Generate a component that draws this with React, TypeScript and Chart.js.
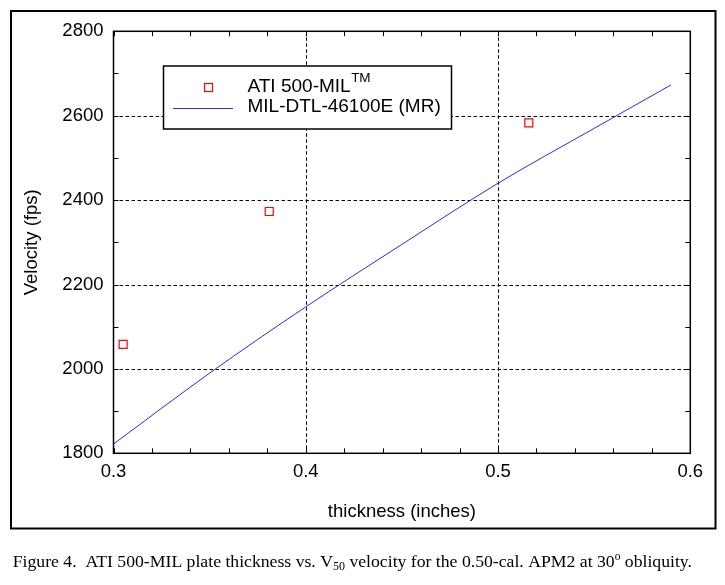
import React, { useEffect, useRef } from "react";
import { Chart, registerables } from "chart.js";

Chart.register(...registerables);

// ---- data ----
const atiThickness = [0.305, 0.381, 0.516];
const atiVelocity = [2058, 2373, 2583];

const milThickness = [0.3, 0.35, 0.4, 0.45, 0.5, 0.55, 0.59];
const milVelocity = [1822, 1990, 2147, 2295, 2440, 2570, 2673];

const xTicks = [0.3, 0.4, 0.5, 0.6];
const yTicks = [1800, 2000, 2200, 2400, 2600, 2800];
const xMinorTicks = [0.32, 0.34, 0.36, 0.38, 0.42, 0.44, 0.46, 0.48, 0.52, 0.54, 0.56, 0.58];
const yMinorTicks = [1900, 2100, 2300, 2500, 2700];

const legendLabels = ["ATI 500-MIL", "MIL-DTL-46100E (MR)"];
const xTitle = "thickness (inches)";
const yTitle = "Velocity (fps)";

const SANS = "'Liberation Sans', Arial, sans-serif";
const SERIF = "'Liberation Serif', 'Times New Roman', serif";

const figurePlugin = {
  id: "figurePlugin",
  beforeDraw(chart: any) {
    const { ctx, width, height } = chart;
    ctx.save();
    ctx.fillStyle = "#ffffff";
    ctx.fillRect(0, 0, width, height);
    ctx.restore();
  },
  beforeDatasetsDraw(chart: any) {
    const { ctx, chartArea, scales } = chart;
    const { left, right, top, bottom } = chartArea;
    ctx.save();
    ctx.strokeStyle = "#000";
    ctx.lineWidth = 1;
    ctx.setLineDash([3.5, 2.5]);
    xTicks.forEach((v) => {
      const px = Math.round(scales.x.getPixelForValue(v)) + 0.5;
      if (px <= left + 2 || px >= right - 2) return;
      ctx.beginPath();
      ctx.moveTo(px, top);
      ctx.lineTo(px, bottom);
      ctx.stroke();
    });
    yTicks.forEach((v) => {
      const py = Math.round(scales.y.getPixelForValue(v)) + 0.5;
      if (py <= top + 2 || py >= bottom - 2) return;
      ctx.beginPath();
      ctx.moveTo(left, py);
      ctx.lineTo(right, py);
      ctx.stroke();
    });
    ctx.restore();
  },
  afterDraw(chart: any) {
    const { ctx, chartArea, scales } = chart;
    const { left, right, top, bottom } = chartArea;
    ctx.save();
    // inward tick marks on all four sides
    ctx.strokeStyle = "#000";
    ctx.lineWidth = 1;
    ctx.setLineDash([]);
    const tl = 5;
    [...xTicks, ...xMinorTicks].forEach((v) => {
      const px = Math.round(scales.x.getPixelForValue(v)) + 0.5;
      ctx.beginPath();
      ctx.moveTo(px, bottom);
      ctx.lineTo(px, bottom - tl);
      ctx.moveTo(px, top);
      ctx.lineTo(px, top + tl);
      ctx.stroke();
    });
    [...yTicks, ...yMinorTicks].forEach((v) => {
      const py = Math.round(scales.y.getPixelForValue(v)) + 0.5;
      ctx.beginPath();
      ctx.moveTo(left, py);
      ctx.lineTo(left + tl, py);
      ctx.moveTo(right, py);
      ctx.lineTo(right - tl, py);
      ctx.stroke();
    });
    // plot frame
    ctx.lineWidth = 1.5;
    ctx.strokeRect(left, top, right - left, bottom - top);

    // legend
    const bx = 163.5, by = 66, bw = 288, bh = 63;
    ctx.fillStyle = "#fff";
    ctx.fillRect(bx, by, bw, bh);
    ctx.lineWidth = 1.5;
    ctx.strokeStyle = "#000";
    ctx.strokeRect(bx, by, bw, bh);
    ctx.strokeStyle = "#ff0000";
    ctx.lineWidth = 1.2;
    ctx.strokeRect(204.5, 83.5, 8, 8);
    ctx.strokeStyle = "rgb(40,40,255)";
    ctx.lineWidth = 1;
    ctx.beginPath();
    ctx.moveTo(173, 108.5);
    ctx.lineTo(233, 108.5);
    ctx.stroke();
    ctx.fillStyle = "#000";
    ctx.textBaseline = "alphabetic";
    ctx.textAlign = "left";
    ctx.font = `19px ${SANS}`;
    ctx.fillText(legendLabels[0], 247.5, 92);
    const w0 = ctx.measureText(legendLabels[0]).width;
    ctx.font = `13.5px ${SANS}`;
    ctx.fillText("TM", 247.5 + w0 + 0.5, 82);
    ctx.font = `19px ${SANS}`;
    ctx.fillText(legendLabels[1], 247.5, 112);

    // outer figure frame
    ctx.strokeStyle = "#000";
    ctx.lineWidth = 2;
    ctx.strokeRect(11, 11, 704.5, 517.5);

    // caption
    const parts: [string, number, number][] = [
      ["Figure 4.  ATI 500-MIL plate thickness vs. V", 17.7, 0],
      ["50", 12, 3],
      [" velocity for the 0.50-cal. APM2 at 30", 17.7, 0],
      ["o", 11.5, -7.5],
      [" obliquity.", 17.7, 0],
    ];
    let cx = 12.7;
    const base = 567;
    parts.forEach(([t, size, dy]) => {
      ctx.font = `${size}px ${SERIF}`;
      ctx.fillText(t, cx, base + dy);
      cx += ctx.measureText(t).width;
    });
    ctx.restore();
  },
};

export default function App() {
  const ref = useRef<HTMLCanvasElement>(null);
  useEffect(() => {
    const canvas = ref.current;
    if (!canvas) return;
    const chart = new Chart(canvas, {
      type: "scatter",
      data: {
        datasets: [
          {
            label: legendLabels[0],
            data: atiThickness.map((x, i) => ({ x, y: atiVelocity[i] })),
            pointStyle: "rect",
            pointRadius: 5.66,
            pointBorderWidth: 1.2,
            pointBorderColor: "#ff0000",
            pointBackgroundColor: "rgba(0,0,0,0)",
            showLine: false,
          },
          {
            label: legendLabels[1],
            data: milThickness.map((x, i) => ({ x, y: milVelocity[i] })),
            showLine: true,
            borderColor: "rgb(40,40,255)",
            borderWidth: 1,
            pointRadius: 0,
            cubicInterpolationMode: "monotone",
          } as any,
        ],
      },
      options: {
        responsive: false,
        animation: false,
        layout: { padding: { left: 0, top: 31.3, right: 34.7, bottom: 61.7 } },
        plugins: {
          legend: { display: false },
          tooltip: { enabled: false },
          title: { display: false },
        },
        scales: {
          x: {
            type: "linear",
            min: 0.3,
            max: 0.6,
            grid: { display: false, drawTicks: false },
            border: { display: false },
            afterBuildTicks: (s: any) => {
              s.ticks = xTicks.map((value) => ({ value }));
            },
            afterFit: (s: any) => {
              s.height = 70;
            },
            ticks: {
              autoSkip: false,
              maxRotation: 0,
              padding: 8,
              color: "#000",
              font: { family: SANS, size: 18.5 },
              callback: (v: any) => Number(v).toFixed(1),
            },
            title: {
              display: true,
              text: xTitle,
              color: "#000",
              font: { family: SANS, size: 18.5 },
              padding: { top: 0, bottom: 0.2 },
            },
          },
          y: {
            type: "linear",
            min: 1800,
            max: 2800,
            grid: { display: false, drawTicks: false },
            border: { display: false },
            afterBuildTicks: (s: any) => {
              s.ticks = yTicks.map((value) => ({ value }));
            },
            afterFit: (s: any) => {
              s.width = 113.5;
            },
            ticks: {
              autoSkip: false,
              padding: 10,
              color: "#000",
              font: { family: SANS, size: 18.5 },
              callback: (v: any) => String(v),
            },
            title: {
              display: true,
              text: yTitle,
              color: "#000",
              font: { family: SANS, size: 18.5 },
              padding: { top: 21, bottom: 0 },
            },
          },
        },
      },
      plugins: [figurePlugin],
    });
    return () => chart.destroy();
  }, []);
  return (
    <div
      style={{
        position: "fixed",
        left: 0,
        top: 0,
        width: 725,
        height: 585,
        background: "#fff",
        overflow: "hidden",
      }}
    >
      <canvas ref={ref} width={725} height={585} style={{ display: "block", width: 725, height: 585 }} />
    </div>
  );
}
